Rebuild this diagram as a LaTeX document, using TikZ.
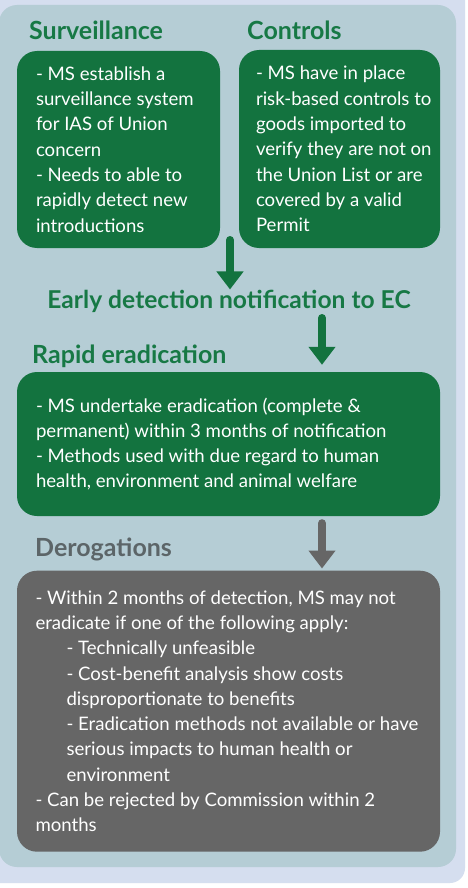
\documentclass[tikz,border=0pt]{standalone}
\usepackage{fontspec}
\setmainfont{Lato}
\usepackage{xcolor}
\usetikzlibrary{positioning,calc,arrows.meta}

\definecolor{boxgreen}{HTML}{13733F}
\definecolor{headgreen}{HTML}{177945}
\definecolor{boxgray}{HTML}{666666}
\definecolor{headgray}{HTML}{5C6568}
\definecolor{panelblue}{HTML}{B5CDD5}
\definecolor{outerblue}{HTML}{D5DEEF}

\tikzset{
  gbox/.style={fill=boxgreen,rounded corners=20pt,inner sep=0pt},
  dbox/.style={fill=boxgray,rounded corners=20pt,inner sep=0pt},
  btext/.style={text=white,align=left,inner sep=0pt,anchor=west,
    font=\fontsize{18.6}{25.3}\selectfont},
  ghead/.style={text=headgreen,inner sep=0pt,anchor=base west,
    font=\fontsize{25}{28}\selectfont\bfseries},
  garr/.style={boxgreen,line width=8pt,line cap=round,-{Triangle[width=26pt,length=18pt]}},
  darr/.style={boxgray,line width=8pt,line cap=round,-{Triangle[width=26pt,length=18pt]}}
}

\begin{document}
\begin{tikzpicture}[x=1pt,y=-1pt]
  \useasboundingbox (0,0) rectangle (467,888);
  % Background panels
  \fill[white] (0,0) rectangle (467,888);
  \fill[outerblue,rounded corners=15pt] (-30,-30) rectangle (465,883);
  \fill[panelblue,rounded corners=18pt] (-1,5) rectangle (456,867);

  % Headings
  \node[ghead] (survhead) at (29,40) {Surveillance};
  \node[ghead] (ctrlhead) at (247,40) {Controls};
  \node[ghead,anchor=base,font=\fontsize{24.6}{28}\selectfont\bfseries] (notif) at (229,308) {Early detection notification to EC};
  \node[ghead] (rapidhead) at (32,363) {Rapid eradication};
  \node[ghead,text=headgray] (derohead) at (35,556) {Derogations};

  % Boxes
  \node[gbox,minimum width=203pt,minimum height=197pt] (survbox) at (118.5,149.5) {};
  \node[gbox,minimum width=201pt,minimum height=198pt] (ctrlbox) at (339.5,149) {};
  \node[gbox,minimum width=423pt,minimum height=144pt] (rapidbox) at (228.5,444) {};
  \node[dbox,minimum width=423pt,minimum height=281pt] (derobox) at (228.5,711.2) {};

  % Box texts
  \node[btext] (survtxt) at ([xshift=19pt]survbox.west) {- MS establish a\\ surveillance system\\ for IAS of Union\\ concern\\ - Needs to able to\\ rapidly detect new\\ introductions};
  \node[btext] (ctrltxt) at ([xshift=17pt]ctrlbox.west) {- MS have in place\\ risk-based controls to\\ goods imported to\\ verify they are not on\\ the Union List or are\\ covered by a valid\\ Permit};
  \node[btext] (rapidtxt) at ([xshift=19pt]rapidbox.west) {- MS undertake eradication (complete \&\\ permanent) within 3 months of notification\\ - Methods used with due regard to human\\ health, environment and animal welfare};
  \node[btext] (derotxt) at ([xshift=18.5pt]derobox.west) {- Within 2 months of detection, MS may not\\ eradicate if one of the following apply:\\
    \hspace*{31pt}- Technically unfeasible\\
    \hspace*{31pt}- Cost-benefit analysis show costs\\
    \hspace*{31pt}disproportionate to benefits\\
    \hspace*{31pt}- Eradication methods not available or have\\
    \hspace*{31pt}serious impacts to human health or\\
    \hspace*{31pt}environment\\
    - Can be rejected by Commission within 2\\ months};

  % Arrows
  \coordinate (a1) at (230,240);
  \draw[garr] (a1) -- (notif.north -| a1);
  \coordinate (a2) at (322,318);
  \draw[garr] (a2) -- ([yshift=7pt]rapidbox.north -| a2);
  \draw[darr] ([yshift=-7pt]rapidbox.south -| a2) -- ([yshift=2pt]derobox.north -| a2);
\end{tikzpicture}
\end{document}
